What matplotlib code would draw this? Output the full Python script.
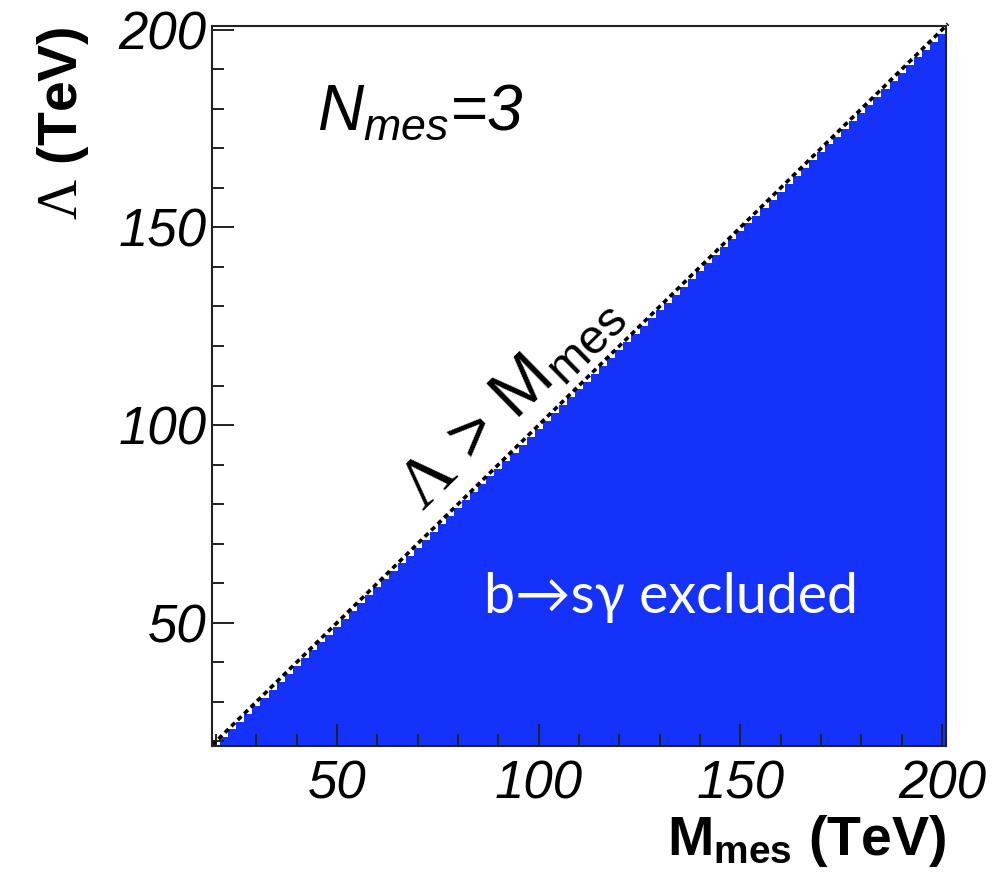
import numpy as np
import matplotlib
matplotlib.use("Agg")
import matplotlib.pyplot as plt
from matplotlib.ticker import MultipleLocator

plt.rcParams['font.family'] = ['Liberation Sans', 'DejaVu Sans']
plt.rcParams['mathtext.fontset'] = 'custom'
plt.rcParams['mathtext.rm'] = 'Liberation Serif'
plt.rcParams['mathtext.it'] = 'Liberation Sans:italic'
plt.rcParams['mathtext.bf'] = 'Liberation Sans:bold'
plt.rcParams['mathtext.sf'] = 'Liberation Sans'

# scan grid (TeV), 2 TeV cells
m_mes_edges = np.arange(19, 203, 2)
lam_edges = np.arange(19, 203, 2)
# excluded by b->s gamma where Lambda < M_mes
boundary_m = [19, 201.5]
boundary_lam = [19, 201.5]
n_mes = 3

M, L = np.meshgrid(m_mes_edges[:-1], lam_edges[:-1])
excluded = np.where(L < M, 1.0, np.nan)

fig = plt.figure(figsize=(9.96, 8.86), dpi=100)
ax = fig.add_axes([0.2129, 0.158, 0.7369, 0.8128])

ax.pcolormesh(m_mes_edges, lam_edges, excluded, cmap=matplotlib.colors.ListedColormap(['#1432fa']),
              vmin=0, vmax=1, shading='flat')
ax.plot(boundary_m, boundary_lam, color='black', lw=2.6, ls=(0, (1.4, 1.1)), clip_on=False)

ax.set_xlim(19, 201)
ax.set_ylim(18.8, 201)

ax.xaxis.set_major_locator(MultipleLocator(50))
ax.xaxis.set_minor_locator(MultipleLocator(10))
ax.yaxis.set_major_locator(MultipleLocator(50))
ax.yaxis.set_minor_locator(MultipleLocator(10))
ax.tick_params(which='both', direction='in', top=False, right=False, width=1.4, color='#222222')
ax.tick_params(which='major', length=16)
ax.tick_params(which='minor', length=8.5)
ax.tick_params(axis='x', pad=10)
ax.tick_params(axis='y', pad=4)
for lab in ax.get_xticklabels() + ax.get_yticklabels():
    lab.set_fontsize(38)
    lab.set_fontstyle('italic')
for s in ax.spines.values():
    s.set_linewidth(1.5)
    s.set_color('#222222')

ax.set_xlabel(r'$\mathbf{M_{mes}}$ (TeV)', fontsize=40, fontweight='bold', loc='right', labelpad=2)
ax.set_ylabel(r'$\Lambda$ (TeV)', fontsize=40, fontweight='bold', loc='top', labelpad=20)

ax.text(45, 174.7, r'$N_{mes}$=' + str(n_mes), fontsize=46, style='italic', ha='left', va='baseline')
ax.text(93.0, 106.0, r'$\Lambda$ > M$_{\mathsf{mes}}$', fontsize=50, rotation=44.4,
        ha='center', va='center', rotation_mode='anchor')
ax.text(132.8, 52.4, 'b\u2192s\u03b3 excluded', fontsize=40, color='white', ha='center', va='baseline',
        family=['Lato', 'DejaVu Sans'])

fig.savefig('out.png', dpi=100)
